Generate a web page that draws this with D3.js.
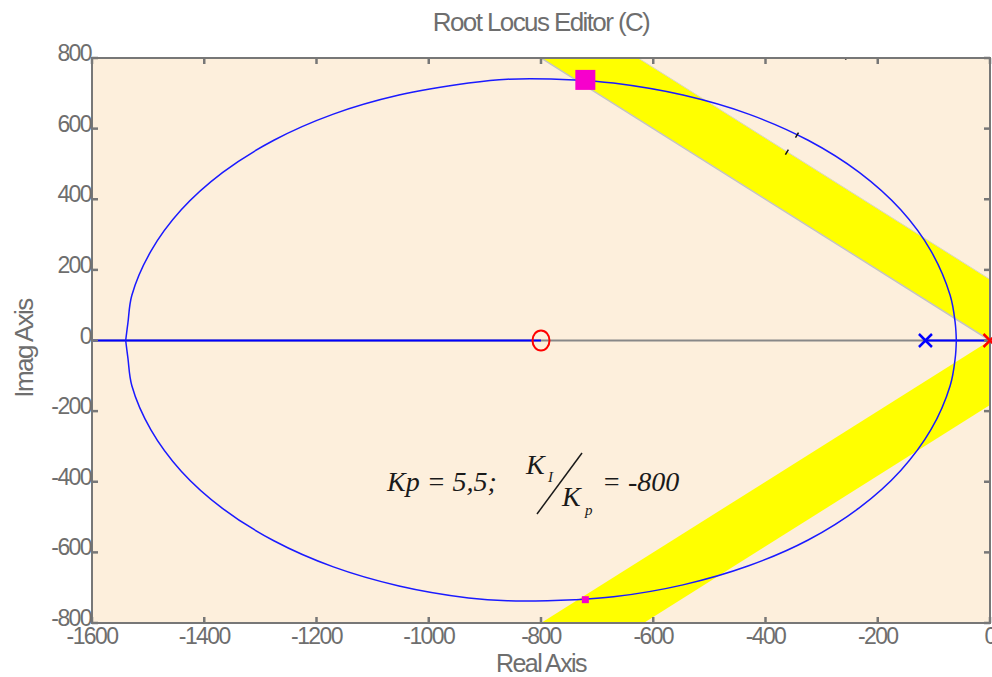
<!DOCTYPE html>
<html>
<head>
<meta charset="utf-8">
<script src="https://cdn.jsdelivr.net/npm/d3@7"></script>
<style>
  body { margin: 0; background: #fff; }
  svg text { font-family: "Liberation Sans", Arial, sans-serif; }
</style>
</head>
<body>
<svg id="visualization"></svg>
<script>
// data
const xTicks = [-1600, -1400, -1200, -1000, -800, -600, -400, -200, 0];
const yTicks = [800, 600, 400, 200, 0, -200, -400, -600, -800];

// root locus branches (real, imag)
const locusUpper = [
  [-1540, 0], [-1536, 50], [-1529, 128], [-1495, 253], [-1441, 370], [-1367, 476],
  [-1276, 567], [-1170, 641], [-1053, 695], [-929, 729], [-860, 740], [-740, 738],
  [-671, 729], [-547, 695], [-430, 641], [-324, 567], [-233, 476], [-159, 370],
  [-105, 253], [-71, 128], [-62, 50], [-60, 0]
];
const locusLower = [
  [-1540, 0], [-1536, -50], [-1529, -128], [-1495, -253], [-1441, -370], [-1367, -476],
  [-1276, -567], [-1170, -641], [-1053, -695], [-929, -729], [-860, -737], [-740, -734],
  [-671, -726], [-547, -692], [-430, -638], [-324, -565], [-233, -474], [-159, -368],
  [-105, -252], [-71, -128], [-62, -50], [-60, 0]
];
const realAxisLocus = [[-2000, -800], [-115, 0]];

const zeros = [[-800, 0]];
const compPoles = [[-115, 0]];
const plantPoles = [[0, 0]];
const closedLoopPoles = [[-721, 738], [-721, -734]];
const strayMarks = [[-343, 583], [-361, 535], [-254, 804]];

// damping constraint bands (width in imag units)
const upperBand = { slope: -1, width: 173 };
const lowerBand = { slope: 1, width: -183 };

// Layout plot
const width = 992;
const height = 677;
const margin = { top: 58, right: 2, bottom: 54, left: 92 };

const svg = d3.select('#visualization')
    .attr('width', width)
    .attr('height', height);

const xScale = d3.scaleLinear()
    .domain([-1600, 0])
    .range([margin.left, width - margin.right]);

const yScale = d3.scaleLinear()
    .domain([-800, 800])
    .range([height - margin.bottom, margin.top]);

const axisColor = '#777';

svg.append('clipPath').attr('id', 'plot')
  .append('rect')
    .attr('x', xScale(-1600)).attr('y', yScale(800))
    .attr('width', xScale(0) - xScale(-1600))
    .attr('height', yScale(-800) - yScale(800));

svg.append('rect')
    .attr('x', xScale(-1600)).attr('y', yScale(800))
    .attr('width', xScale(0) - xScale(-1600))
    .attr('height', yScale(-800) - yScale(800))
    .attr('fill', '#FDEFDC');

const plot = svg.append('g').attr('clip-path', 'url(#plot)');

// yellow bands
const line = d3.line().x(d => xScale(d[0])).y(d => yScale(d[1]));
[upperBand, lowerBand].forEach(b => {
  const pts = [
    [0, 0], [-2000, -2000 * b.slope], [-2000, -2000 * b.slope + b.width], [0, b.width]
  ];
  plot.append('path')
      .attr('d', line(pts) + 'Z')
      .attr('fill', '#FFFF00');
});
plot.append('path')
    .attr('d', line([[0, 0], [-2000, 2000]]))
    .attr('stroke', '#c4c4c4').attr('stroke-width', 1.5).attr('fill', 'none');
plot.append('path')
    .attr('d', line([[0, upperBand.width], [-2000, 2000 + upperBand.width]]))
    .attr('stroke', '#d8d8c0').attr('stroke-width', 1).attr('fill', 'none');

// real axis
plot.append('line')
    .attr('x1', xScale(-1600)).attr('x2', xScale(0))
    .attr('y1', yScale(0)).attr('y2', yScale(0))
    .attr('stroke', '#888').attr('stroke-width', 2);

// locus
realAxisLocus.forEach(s => {
  plot.append('line')
      .attr('x1', xScale(s[0])).attr('x2', xScale(s[1]))
      .attr('y1', yScale(0)).attr('y2', yScale(0))
      .attr('stroke', '#0000FF').attr('stroke-width', 2);
});
const curve = d3.line()
    .x(d => xScale(d[0])).y(d => yScale(d[1]))
    .curve(d3.curveCatmullRom.alpha(0.5));
[locusUpper, locusLower].forEach(branch => {
  plot.append('path')
      .attr('d', curve(branch))
      .attr('fill', 'none')
      .attr('stroke', '#1a1aff')
      .attr('stroke-width', 1.5);
});

// stray marks
plot.selectAll('.stray')
  .data(strayMarks)
  .join('line')
    .attr('x1', d => xScale(d[0]) - 2).attr('x2', d => xScale(d[0]) + 1)
    .attr('y1', d => yScale(d[1]) + 3).attr('y2', d => yScale(d[1]) - 2)
    .attr('stroke', '#111').attr('stroke-width', 1.5);

// axes box
svg.append('rect')
    .attr('x', xScale(-1600)).attr('y', yScale(800))
    .attr('width', xScale(0) - xScale(-1600))
    .attr('height', yScale(-800) - yScale(800))
    .attr('fill', 'none').attr('stroke', axisColor).attr('stroke-width', 2);

// ticks (inward)
const tl = 6;
svg.selectAll('.xt')
  .data(xTicks)
  .join('g')
  .each(function(d) {
    const g = d3.select(this);
    g.append('line').attr('x1', xScale(d)).attr('x2', xScale(d))
      .attr('y1', yScale(-800)).attr('y2', yScale(-800) - tl);
    g.append('line').attr('x1', xScale(d)).attr('x2', xScale(d))
      .attr('y1', yScale(800)).attr('y2', yScale(800) + tl);
  })
  .attr('stroke', axisColor).attr('stroke-width', 2.5);
svg.selectAll('.yt')
  .data(yTicks)
  .join('g')
  .each(function(d) {
    const g = d3.select(this);
    g.append('line').attr('x1', xScale(-1600)).attr('x2', xScale(-1600) + tl)
      .attr('y1', yScale(d)).attr('y2', yScale(d));
    g.append('line').attr('x1', xScale(0)).attr('x2', xScale(0) - tl)
      .attr('y1', yScale(d)).attr('y2', yScale(d));
  })
  .attr('stroke', axisColor).attr('stroke-width', 2.5);

// tick labels
const labelStyle = (sel, size = 23) => sel
    .attr('fill', '#6e6e6e')
    .attr('font-size', size)
    .attr('letter-spacing', -1.6);
svg.selectAll('.xl')
  .data(xTicks)
  .join('text')
    .attr('x', d => xScale(d))
    .attr('y', yScale(-800) + 21)
    .attr('text-anchor', 'middle')
    .text(d => String(d))
    .call(labelStyle);
svg.selectAll('.yl')
  .data(yTicks)
  .join('text')
    .attr('x', xScale(-1600) - 1)
    .attr('y', d => yScale(d) + 3)
    .attr('text-anchor', 'end')
    .text(d => String(d))
    .call(labelStyle);

// title and axis labels
svg.append('text')
    .attr('x', 541).attr('y', 31)
    .attr('text-anchor', 'middle')
    .text('Root Locus Editor (C)')
    .call(labelStyle, 26);
svg.append('text')
    .attr('x', 541).attr('y', 672)
    .attr('text-anchor', 'middle')
    .text('Real Axis')
    .call(labelStyle, 25);
svg.append('text')
    .attr('transform', `translate(33, ${yScale(0) + 8}) rotate(-90)`)
    .attr('text-anchor', 'middle')
    .text('Imag Axis')
    .call(labelStyle, 26);

// zeros and poles
svg.selectAll('.zero')
  .data(zeros)
  .join('ellipse')
    .attr('cx', d => xScale(d[0])).attr('cy', d => yScale(d[1]))
    .attr('rx', 8.5).attr('ry', 10)
    .attr('fill', 'none').attr('stroke', '#FF0000').attr('stroke-width', 2);

const cross = (data, color) => {
  data.forEach(d => {
    const cx = xScale(d[0]), cy = yScale(d[1]), r = 6.5;
    svg.append('path')
        .attr('d', `M${cx - r},${cy - r}L${cx + r},${cy + r}M${cx - r},${cy + r}L${cx + r},${cy - r}`)
        .attr('stroke', color).attr('stroke-width', 2.5).attr('fill', 'none');
  });
};
cross(compPoles, '#0000FF');
cross(plantPoles, '#FF0000');

// closed loop poles
svg.selectAll('.clp')
  .data(closedLoopPoles)
  .join('rect')
    .attr('x', (d, i) => xScale(d[0]) - (i === 0 ? 10 : 3.5))
    .attr('y', (d, i) => yScale(d[1]) - (i === 0 ? 10 : 3.5))
    .attr('width', (d, i) => i === 0 ? 20 : 7)
    .attr('height', (d, i) => i === 0 ? 20 : 7)
    .attr('fill', '#F700CC');

// annotation
const note = svg.append('g')
    .attr('font-style', 'italic')
    .attr('fill', '#1a1a1a');
const serif = sel => sel.style('font-family', '"Liberation Serif", "Times New Roman", serif');
note.append('text').attr('x', 387).attr('y', 491).attr('font-size', 28)
    .call(serif).text('Kp = 5,5;');
note.append('text').attr('x', 526).attr('y', 474).attr('font-size', 28)
    .call(serif).text('K');
note.append('text').attr('x', 548).attr('y', 482).attr('font-size', 15)
    .call(serif).text('I');
note.append('line')
    .attr('x1', 537).attr('y1', 514).attr('x2', 582).attr('y2', 453)
    .attr('stroke', '#1a1a1a').attr('stroke-width', 1.5);
note.append('text').attr('x', 562).attr('y', 506).attr('font-size', 28)
    .call(serif).text('K');
note.append('text').attr('x', 585).attr('y', 515).attr('font-size', 15)
    .call(serif).text('p');
note.append('text').attr('x', 602).attr('y', 491).attr('font-size', 28)
    .call(serif).text('= -800');
</script>
</body>
</html>
